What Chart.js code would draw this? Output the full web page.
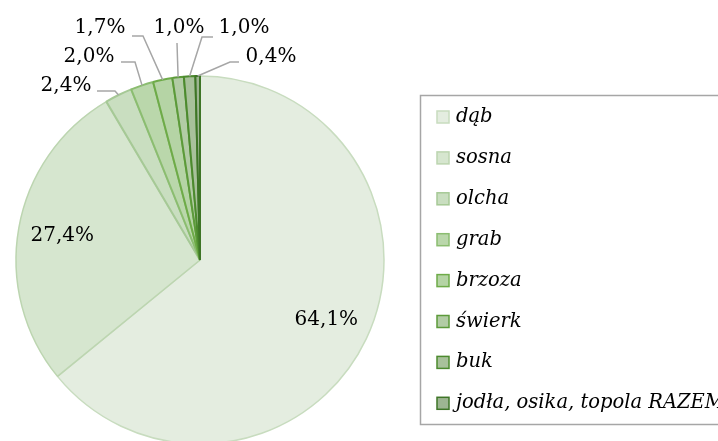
<!DOCTYPE html>
<html>
<head>
<meta charset="utf-8">
<script src="https://cdn.jsdelivr.net/npm/chart.js@4"></script>
<style>
  html, body { margin: 0; padding: 0; background: #fff; overflow: hidden; }
  #wrap { width: 718px; height: 460px; }
</style>
</head>
<body>
<div id="wrap"><canvas id="pie" width="718" height="460"></canvas></div>
<script>
const species = ['dąb', 'sosna', 'olcha', 'grab', 'brzoza', 'świerk', 'buk', 'jodła, osika, topola RAZEM'];
const shares = [64.1, 27.4, 2.4, 2.0, 1.7, 1.0, 1.0, 0.4];
const percentLabels = ['64,1%', '27,4%', '2,4%', '2,0%', '1,7%', '1,0%', '1,0%', '0,4%'];

const fills = ['#e4ede0', '#d6e6cf', '#c9dec0', '#bad7ab', '#b5d4a5', '#b2cca5', '#a8c19b', '#9db592'];
const borders = ['#c8dcbf', '#bcd5b0', '#a6c996', '#8bbd70', '#6eab48', '#5c9a3a', '#4c8a2e', '#3e7527'];

// outer labels: text x, baseline y, elbow x, elbow y, line end x (null = inside label)
const labelLayout = [
  null, null,
  [66, 91, 115, 91, 97],
  [89, 62, 135, 62, 121],
  [100, 33, 143, 36, 132],
  [179, 33, 177, 43, 177],
  [244, 33, 202, 37, 213],
  [271, 62, 230, 62, 239]
];

const labelPlugin = {
  id: 'labels',
  afterDatasetsDraw(chart) {
    const ctx = chart.ctx;
    const arcs = chart.getDatasetMeta(0).data;
    ctx.save();
    ctx.font = '20px "DejaVu Serif"';
    ctx.fillStyle = '#000';
    arcs.forEach((arc, i) => {
      const mid = (arc.startAngle + arc.endAngle) / 2;
      const lay = labelLayout[i];
      if (!lay) {
        const r = arc.outerRadius * 0.76;
        ctx.textAlign = 'center';
        ctx.textBaseline = 'middle';
        ctx.fillText(percentLabels[i], arc.x + Math.cos(mid) * r, arc.y + Math.sin(mid) * r);
        return;
      }
      const ax = arc.x + Math.cos(mid) * arc.outerRadius;
      const ay = arc.y + Math.sin(mid) * arc.outerRadius;
      ctx.strokeStyle = '#a6a6a6';
      ctx.lineWidth = 1.5;
      ctx.beginPath();
      ctx.moveTo(ax, ay);
      ctx.lineTo(lay[2], lay[3]);
      ctx.lineTo(lay[4], lay[3]);
      ctx.stroke();
      ctx.textAlign = 'center';
      ctx.textBaseline = 'alphabetic';
      ctx.fillText(percentLabels[i], lay[0], lay[1]);
    });

    // legend box (right side runs off the page)
    ctx.strokeStyle = '#a6a6a6';
    ctx.lineWidth = 1.5;
    ctx.beginPath();
    ctx.moveTo(760, 95.5);
    ctx.lineTo(420.5, 95.5);
    ctx.lineTo(420.5, 424.5);
    ctx.lineTo(760, 424.5);
    ctx.stroke();
    ctx.font = 'italic 19.5px "DejaVu Serif"';
    ctx.textAlign = 'left';
    ctx.textBaseline = 'middle';
    species.forEach((name, i) => {
      const y = 117 + i * 40.9;
      ctx.fillStyle = fills[i];
      ctx.fillRect(437, y - 6, 12, 12);
      ctx.strokeStyle = borders[i];
      ctx.lineWidth = 1.5;
      ctx.strokeRect(437, y - 6, 12, 12);
      ctx.fillStyle = '#000';
      ctx.fillText(name, 456, y);
    });
    ctx.restore();
  }
};

new Chart(document.getElementById('pie'), {
  type: 'pie',
  data: {
    labels: species,
    datasets: [{
      data: shares,
      backgroundColor: fills,
      borderColor: borders,
      borderWidth: [1.5, 1.5, 2, 2, 2, 2, 2, 2],
    }]
  },
  options: {
    responsive: false,
    animation: false,
    layout: {
      padding: { left: 15, right: 333, top: 75, bottom: 15 }
    },
    plugins: {
      legend: { display: false },
      tooltip: { enabled: false }
    }
  },
  plugins: [labelPlugin]
});
</script>
</body>
</html>
